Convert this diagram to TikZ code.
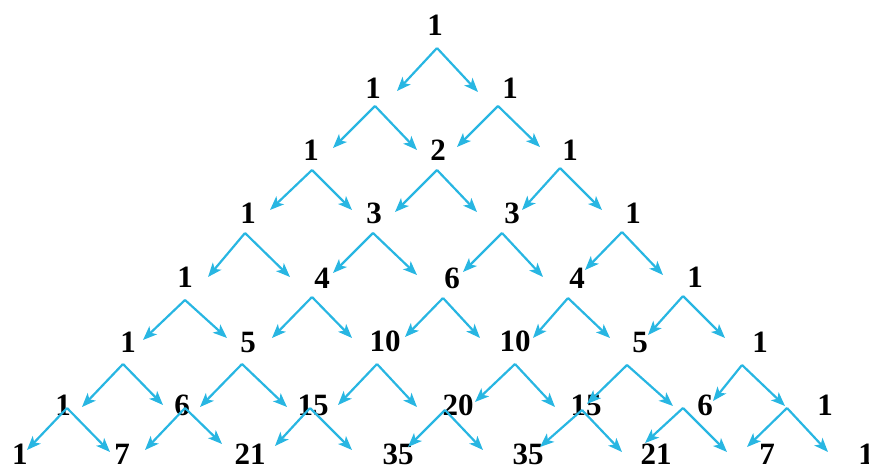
\documentclass[tikz,border=0pt]{standalone}
\usepackage{fontspec}
\setmainfont{Liberation Serif}
\usetikzlibrary{arrows.meta}
\definecolor{arrowblue}{RGB}{40,182,226}
\tikzset{
  num/.style={inner sep=0pt, font=\fontsize{31}{31}\selectfont\bfseries, text=black},
  arr/.style={draw=arrowblue, line width=2.2pt, -{Stealth[length=14pt,width=11pt,inset=3.5pt]}}
}
\begin{document}
\begin{tikzpicture}[x=1pt,y=-1pt]
\useasboundingbox (0,0) rectangle (869,471);
% numbers
\foreach \name/\x/\y/\t in {
 n00/435/25/1,
 n10/373/88/1, n11/510/88/1,
 n20/311/150/1, n21/438/150/2, n22/570/150/1,
 n30/248/213/1, n31/374/213/3, n32/512/213/3, n33/633/213/1,
 n40/185/277/1, n41/322/278/4, n42/452/278/6, n43/577/278/4, n44/695/277/1,
 n50/128/342/1, n51/248/342/5, n52/385/341/10, n53/515/341/10, n54/640/342/5, n55/760/342/1,
 n60/63/405/1, n61/182/405/6, n62/313/405/15, n63/458/405/20, n64/586/405/15, n65/705/405/6, n66/825/405/1,
 n70/20/454/1, n71/122/454/7, n72/250/454/21, n73/398/454/35, n74/528/454/35, n75/656/454/21, n76/767/454/7, n77/866/454/1}
 {\node[num] (\name) at (\x,\y) {\t};}
% apexes and tips
\foreach \name/\ax/\ay/\lx/\ly/\rx/\ry in {
 a00/437/48/397/91/478/92,
 a10/375/106/333/148/417/150, a11/498/106/457/147/540/147,
 a20/312/170/270/210/352/210, a21/437/170/395/212/477/212, a22/560/168/522/210/602/210,
 a30/245/233/208/277/290/277, a31/373/233/333/273/417/275, a32/502/233/463/272/543/277, a33/622/232/585/270/663/275,
 a40/185/300/143/340/227/338, a41/312/297/272/338/352/338, a42/443/298/405/337/480/338, a43/568/298/533/338/610/338, a44/683/296/648/335/725/338,
 a50/123/364/82/407/163/405, a51/242/364/200/407/287/407, a52/377/364/338/405/417/407, a53/515/364/475/402/555/407, a54/627/365/587/404/673/406, a55/742/365/713/401/785/406,
 a60/67/408/27/450/110/452, a61/185/408/145/450/222/444, a62/310/408/275/446/352/450, a63/445/410/408/447/483/450, a64/582/410/540/447/622/452, a65/683/408/645/443/727/452, a66/787/408/747/447/828/452}
 {
  \coordinate (\name) at (\ax,\ay);
  \coordinate (\name l) at (\lx,\ly);
  \coordinate (\name r) at (\rx,\ry);
  \draw[arr] (\name) -- (\name l);
  \draw[arr] (\name) -- (\name r);
 }
\end{tikzpicture}
\end{document}
